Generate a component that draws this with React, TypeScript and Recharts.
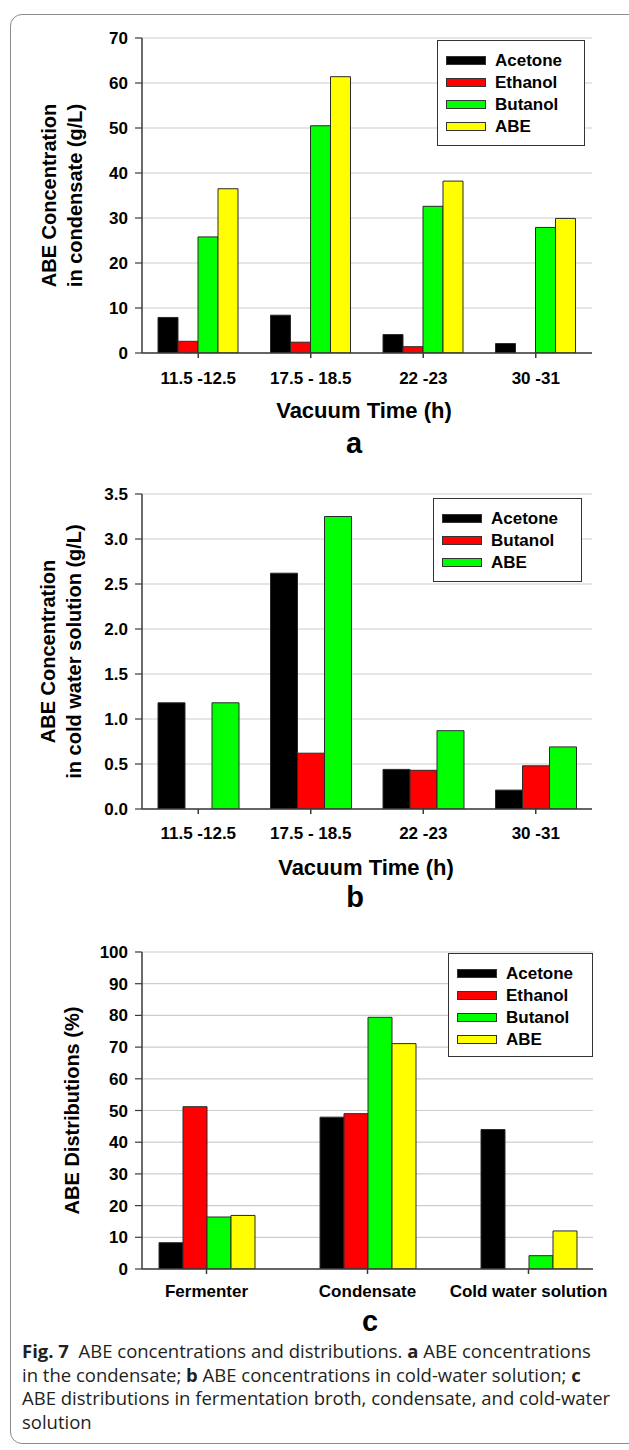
import React from "react";
import { BarChart, Bar, XAxis, YAxis, CartesianGrid, Legend } from "recharts";

// panel a: condensate
const categoriesA = ["11.5 -12.5", "17.5 - 18.5", "22 -23", "30 -31"];
const acetoneA = [7.9, 8.4, 4.1, 2.1];
const ethanolA = [2.6, 2.4, 1.4, null];
const butanolA = [25.8, 50.5, 32.6, 27.9];
const abeA = [36.5, 61.4, 38.2, 29.9];
const ticksA = [0, 10, 20, 30, 40, 50, 60, 70];

// panel b: cold water solution
const categoriesB = ["11.5 -12.5", "17.5 - 18.5", "22 -23", "30 -31"];
const acetoneB = [1.18, 2.62, 0.44, 0.21];
const butanolB = [null, 0.62, 0.43, 0.48];
const abeB = [1.18, 3.25, 0.87, 0.69];
const ticksB = [0, 0.5, 1, 1.5, 2, 2.5, 3, 3.5];

// panel c: distributions
const categoriesC = ["Fermenter", "Condensate", "Cold water solution"];
const acetoneC = [8.3, 47.9, 44.0];
const ethanolC = [51.2, 49.0, null];
const butanolC = [16.4, 79.4, 4.2];
const abeC = [16.9, 71.1, 12.0];
const ticksC = [0, 10, 20, 30, 40, 50, 60, 70, 80, 90, 100];

const FONT = "'Liberation Sans', Arial, Helvetica, sans-serif";
const BLACK = "#000000";
const RED = "#ff0000";
const GREEN = "#00ff00";
const YELLOW = "#ffff00";
const AXIS = "#3a3a3a";

type Series = { name: string; values: (number | null)[]; color: string };

function buildRows(categories: string[], series: Series[]) {
  return categories.map((c, i) => {
    const row: Record<string, any> = { name: c };
    series.forEach((s) => {
      row[s.name] = s.values[i];
    });
    return row;
  });
}

function LegendBox({ payload, order, width, height }: any) {
  // keep the legend in series order, recharts sorts it by name
  const items = [...(payload || [])].sort(
    (a: any, b: any) => order.indexOf(a.value) - order.indexOf(b.value)
  );
  return (
    <div
      style={{
        position: "relative",
        width,
        height,
        border: "1.5px solid #333",
        background: "#fff",
        boxSizing: "border-box",
        fontFamily: FONT,
      }}
    >
      {items.map((p: any, i: number) => (
        <div key={p.value} style={{ position: "absolute", left: 0, top: 20 + i * 22 - 11, height: 22, width: "100%" }}>
          <div
            style={{
              position: "absolute",
              left: 8,
              top: 6,
              width: 40,
              height: 9,
              background: p.color,
              border: "1px solid #333",
              boxSizing: "border-box",
            }}
          />
          <div
            style={{
              position: "absolute",
              left: 57,
              top: 0,
              lineHeight: "22px",
              fontSize: 17,
              fontWeight: 700,
              color: "#000",
              whiteSpace: "nowrap",
            }}
          >
            {p.value}
          </div>
        </div>
      ))}
    </div>
  );
}

type PanelProps = {
  top: number;
  height: number;
  categories: string[];
  series: Series[];
  domain: [number, number];
  ticks: number[];
  fmt?: (v: number) => string;
  barSize: number;
  plotTop: number;
  plotBottom: number;
  plotRight: number;
  xPad?: number;
  yLines: string[];
  yLineXs: number[];
  xTitle?: string;
  titleX: number;
  titleDy: number;
  letter: string;
  letterX: number;
  letterDy: number;
  tickDy: number;
  legend: { left: number; top: number; width: number; height: number };
};

function Panel(p: PanelProps) {
  const data = buildRows(p.categories, p.series);
  const xAxisHeight = p.height - p.plotBottom;
  const pad = p.xPad ?? 0;
  const order = p.series.map((s) => s.name);

  const yLabel = (props: any) => {
    const vb = props.viewBox;
    const cy = vb.y + vb.height / 2;
    return (
      <g>
        {p.yLines.map((t, i) => (
          <text
            key={t}
            x={p.yLineXs[i]}
            y={cy}
            transform={`rotate(-90 ${p.yLineXs[i]} ${cy})`}
            textAnchor="middle"
            dominantBaseline="central"
            fontFamily={FONT}
            fontWeight={700}
            fontSize={20}
            fill="#000"
          >
            {t}
          </text>
        ))}
      </g>
    );
  };

  const xLabel = (props: any) => {
    const vb = props.viewBox;
    const y0 = vb.y;
    return (
      <g>
        {p.xTitle ? (
          <text
            x={p.titleX}
            y={y0 + p.titleDy}
            textAnchor="middle"
            dominantBaseline="central"
            fontFamily={FONT}
            fontWeight={700}
            fontSize={22}
            fill="#000"
          >
            {p.xTitle}
          </text>
        ) : null}
        <text
          x={p.letterX}
          y={y0 + p.letterDy}
          textAnchor="middle"
          dominantBaseline="central"
          fontFamily={FONT}
          fontWeight={700}
          fontSize={29}
          fill="#000"
        >
          {p.letter}
        </text>
      </g>
    );
  };

  return (
    <div style={{ position: "absolute", left: 0, top: p.top, width: 629, height: p.height }}>
      <BarChart
        width={629}
        height={p.height}
        data={data}
        barGap={0}
        margin={{ top: p.plotTop, right: 629 - p.plotRight, left: 0, bottom: 0 }}
      >
        <CartesianGrid horizontal vertical={false} stroke="#cdcdcd" strokeWidth={1.2} />
        <XAxis
          dataKey="name"
          height={xAxisHeight}
          interval={0}
          padding={{ left: pad, right: pad }}
          axisLine={{ stroke: AXIS, strokeWidth: 1.5 }}
          tickLine={{ stroke: AXIS, strokeWidth: 1.5 }}
          tickSize={5}
          tickMargin={p.tickDy}
          tick={{ fill: "#000", fontFamily: FONT, fontWeight: 700, fontSize: 17 }}
          label={{ content: xLabel }}
        />
        <XAxis xAxisId="frame" dataKey="name" orientation="top" height={0} tick={false} tickLine={false} axisLine={{ stroke: AXIS, strokeWidth: 1.5 }} />
        <YAxis
          width={142}
          domain={p.domain}
          ticks={p.ticks}
          allowDataOverflow
          tickFormatter={p.fmt}
          axisLine={{ stroke: AXIS, strokeWidth: 1.5 }}
          tickLine={{ stroke: AXIS, strokeWidth: 1.2 }}
          tickSize={7}
          tickMargin={7}
          tick={{ fill: "#000", fontFamily: FONT, fontWeight: 700, fontSize: 17 }}
          label={{ content: yLabel }}
        />
        <YAxis yAxisId="frame" orientation="right" width={0} tick={false} tickLine={false} axisLine={{ stroke: AXIS, strokeWidth: 1.5 }} />
        <Legend
          layout="vertical"
          align="center"
          verticalAlign="middle"
          wrapperStyle={{
            position: "absolute",
            left: p.legend.left,
            top: p.legend.top - p.top,
            width: p.legend.width,
            height: p.legend.height,
          }}
          content={(props: any) => (
            <LegendBox payload={props.payload} order={order} width={p.legend.width} height={p.legend.height} />
          )}
        />
        {p.series.map((s) => (
          <Bar
            key={s.name}
            dataKey={s.name}
            fill={s.color}
            stroke="#2a2a2a"
            strokeWidth={1}
            barSize={p.barSize}
            isAnimationActive={false}
          />
        ))}
      </BarChart>
    </div>
  );
}

const seriesA: Series[] = [
  { name: "Acetone", values: acetoneA, color: BLACK },
  { name: "Ethanol", values: ethanolA, color: RED },
  { name: "Butanol", values: butanolA, color: GREEN },
  { name: "ABE", values: abeA, color: YELLOW },
];
const seriesB: Series[] = [
  { name: "Acetone", values: acetoneB, color: BLACK },
  { name: "Butanol", values: butanolB, color: RED },
  { name: "ABE", values: abeB, color: GREEN },
];
const seriesC: Series[] = [
  { name: "Acetone", values: acetoneC, color: BLACK },
  { name: "Ethanol", values: ethanolC, color: RED },
  { name: "Butanol", values: butanolC, color: GREEN },
  { name: "ABE", values: abeC, color: YELLOW },
];

export default function App() {
  return (
    <div
      style={{
        position: "absolute",
        left: 0,
        top: 0,
        width: 629,
        height: 1450,
        overflow: "hidden",
        background: "#fff",
      }}
    >
      <div
        style={{
          position: "absolute",
          left: 10,
          top: 14,
          width: 680,
          height: 1430,
          border: "1.2px solid #8c8c8c",
          borderRadius: 12,
          boxSizing: "border-box",
        }}
      />
      <Panel
        top={0}
        height={470}
        categories={categoriesA}
        series={seriesA}
        domain={[0, 70]}
        ticks={ticksA}
        barSize={20}
        plotTop={38}
        plotBottom={353}
        plotRight={592}
        yLines={["ABE Concentration", "in condensate (g/L)"]}
        yLineXs={[49, 75]}
        xTitle="Vacuum Time (h)"
        titleX={364}
        titleDy={57}
        letter="a"
        letterX={354}
        letterDy={90}
        tickDy={14}
        legend={{ left: 437, top: 40, width: 148, height: 106 }}
      />
      <Panel
        top={460}
        height={460}
        categories={categoriesB}
        series={seriesB}
        domain={[0, 3.5]}
        ticks={ticksB}
        fmt={(v: number) => v.toFixed(1)}
        barSize={27}
        plotTop={34}
        plotBottom={349}
        plotRight={592}
        yLines={["ABE Concentration", "in cold water solution (g/L)"]}
        yLineXs={[48, 74]}
        xTitle="Vacuum Time (h)"
        titleX={366}
        titleDy={58}
        letter="b"
        letterX={355}
        letterDy={88}
        tickDy={13}
        legend={{ left: 433, top: 498, width: 149, height: 84 }}
      />
      <Panel
        top={920}
        height={430}
        categories={categoriesC}
        series={seriesC}
        domain={[0, 100]}
        ticks={ticksC}
        barSize={24}
        plotTop={32}
        plotBottom={349}
        plotRight={593}
        xPad={-16}
        yLines={["ABE Distributions (%)"]}
        yLineXs={[72]}
        titleX={367}
        titleDy={0}
        letter="c"
        letterX={370}
        letterDy={52}
        tickDy={11}
        legend={{ left: 448, top: 953, width: 145, height: 104 }}
      />
      <div
        style={{
          position: "absolute",
          left: 22,
          top: 1339,
          fontFamily: "'Open Sans', 'Noto Sans', sans-serif",
          fontSize: 18.5,
          lineHeight: "23.5px",
          color: "#231f20",
          whiteSpace: "nowrap",
        }}
      >
        <div>
          <b>Fig. 7</b>&nbsp;&nbsp;ABE concentrations and distributions. <b>a</b> ABE concentrations
        </div>
        <div>
          in the condensate; <b>b</b> ABE concentrations in cold-water solution; <b>c</b>
        </div>
        <div>ABE distributions in fermentation broth, condensate, and cold-water</div>
        <div>solution</div>
      </div>
    </div>
  );
}
